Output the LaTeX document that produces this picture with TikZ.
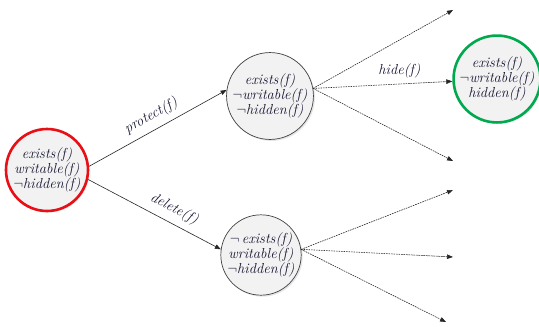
\documentclass[tikz,border=0pt]{standalone}
\usepackage{fontspec}
\usepackage{tikz}
\usetikzlibrary{arrows.meta,shadows}

\definecolor{statered}{RGB}{232,16,22}
\definecolor{stategreen}{RGB}{0,168,78}
\definecolor{statefill}{RGB}{242,242,242}
\definecolor{labelink}{RGB}{22,22,50}

\tikzset{
  state/.style={circle, draw=black!75, line width=0.7pt, fill=statefill,
    minimum size=80pt, inner sep=0pt, align=center, text=labelink,
    font=\fontsize{14.5}{15}\selectfont\itshape,
    drop shadow={opacity=0.2, shadow xshift=1.5pt, shadow yshift=-1.5pt}},
  action/.style={font=\fontsize{14.5}{15}\selectfont\itshape, text=labelink},
  move/.style={-{Triangle[length=6pt,width=4.5pt]}, line width=0.6pt, black!85},
  branch/.style={move, dash pattern=on 1.6pt off 0.9pt}
}

\begin{document}
\begin{tikzpicture}[x=1pt,y=-1pt]
\useasboundingbox (0,0) rectangle (539,327);

\node[state, draw=statered, line width=2.6pt, minimum size=82pt] (start) at (47,170)
  {exists(f)\\ writable(f)\\ $\neg$hidden(f)};
\node[state] (prot) at (270,96) {exists(f)\\ $\neg$writable(f)\\ $\neg$hidden(f)};
\node[state] (del) at (261,255) {$\neg$\,exists(f)\\ writable(f)\\ $\neg$hidden(f)};
\node[state, draw=stategreen, line width=2.6pt, minimum size=78pt] (hid) at (497,79)
  {exists(f)\\ $\neg$writable(f)\\ hidden(f)};

\coordinate (p1) at (453,10);
\coordinate (p3) at (453,161);
\coordinate (d1) at (453,190);
\coordinate (d2) at (453,257);
\coordinate (d3) at (446,322);

\draw[move] (start.5) -- node[action, above=3pt, sloped] {protect(f)} (prot.172);
\draw[move] (start.-13) -- node[action, above=3pt, sloped, pos=0.6] {delete(f)} (del.172);

\draw[branch] (prot.10) -- (p1);
\draw[branch] (prot.10) -- node[action, above=2pt, pos=0.62] {hide(f)} (hid.183);
\draw[branch] (prot.10) -- (p3);

\draw[branch] (del.8) -- (d1);
\draw[branch] (del.8) -- (d2);
\draw[branch] (del.8) -- (d3);
\end{tikzpicture}
\end{document}
